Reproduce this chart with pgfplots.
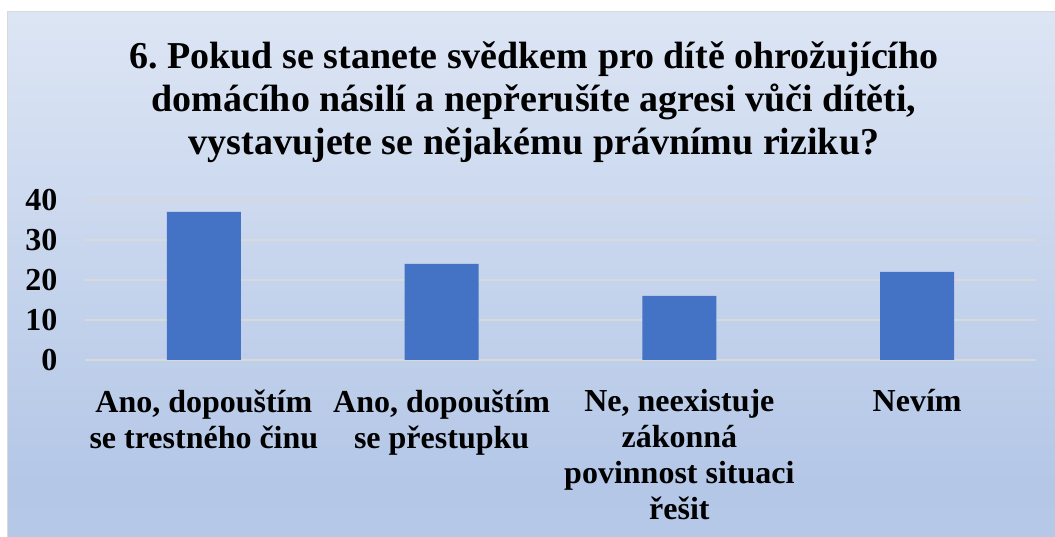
\documentclass[border=0pt]{standalone}
\usepackage{fontspec}
\setmainfont{Liberation Serif}
\usepackage{pgfplots}
\pgfplotsset{compat=1.18}
\frenchspacing
\definecolor{barblue}{HTML}{4472C4}
\definecolor{gridc}{HTML}{D9D9D9}
\definecolor{bgtop}{HTML}{F3F6FB}
\definecolor{bgmid}{HTML}{B4C7E7}
\definecolor{bgbot}{HTML}{BCCEEA}
\pgfdeclareverticalshading{bgshade}{100bp}{color(0bp)=(bgbot); color(30bp)=(bgmid); color(100bp)=(bgtop)}
\begin{document}
\begin{tikzpicture}
\path[use as bounding box] (0,0) rectangle (1055pt,537pt);
\shade[shading=bgshade] (7pt,0) rectangle (1055pt,525pt);
\draw[black!15, line width=1pt] (7pt,0) -- (7pt,525pt) -- (1055pt,525pt);
\node[font=\fontsize{38}{43}\selectfont\bfseries, align=center] at (534pt,435pt)
{6. Pokud se stanete svědkem pro dítě ohrožujícího\\domácího násilí a nepřerušíte agresi vůči dítěti,\\vystavujete se nějakému právnímu riziku?};
\begin{axis}[
  at={(85pt,177pt)}, anchor=south west,
  scale only axis, width=951pt, height=160pt,
  xmin=-0.5, xmax=3.5, ymin=0, ymax=40,
  axis line style={draw=none},
  ytick={0,10,20,30,40},
  ymajorgrids, grid style={gridc, line width=1.5pt},
  xtick={0,1,2,3},
  xticklabels={{Ano, dopouštím\\se trestného činu},{Ano, dopouštím\\se přestupku},{Ne, neexistuje\\zákonná\\povinnost situaci\\řešit},{Nevím}},
  /pgf/number format/assume math mode=true,
  yticklabel style={font=\fontsize{32}{36}\selectfont\bfseries, anchor=east, xshift=-24pt},
  xticklabel style={font=\fontsize{32}{36}\selectfont\bfseries, align=center, anchor=north, yshift=-26pt},
  major tick length=0pt,
  clip=false,
]
\addplot[ybar, bar width=74pt, fill=barblue, draw=none] coordinates {(0,37) (1,24) (2,16) (3,22)};
\end{axis}
\end{tikzpicture}
\end{document}
